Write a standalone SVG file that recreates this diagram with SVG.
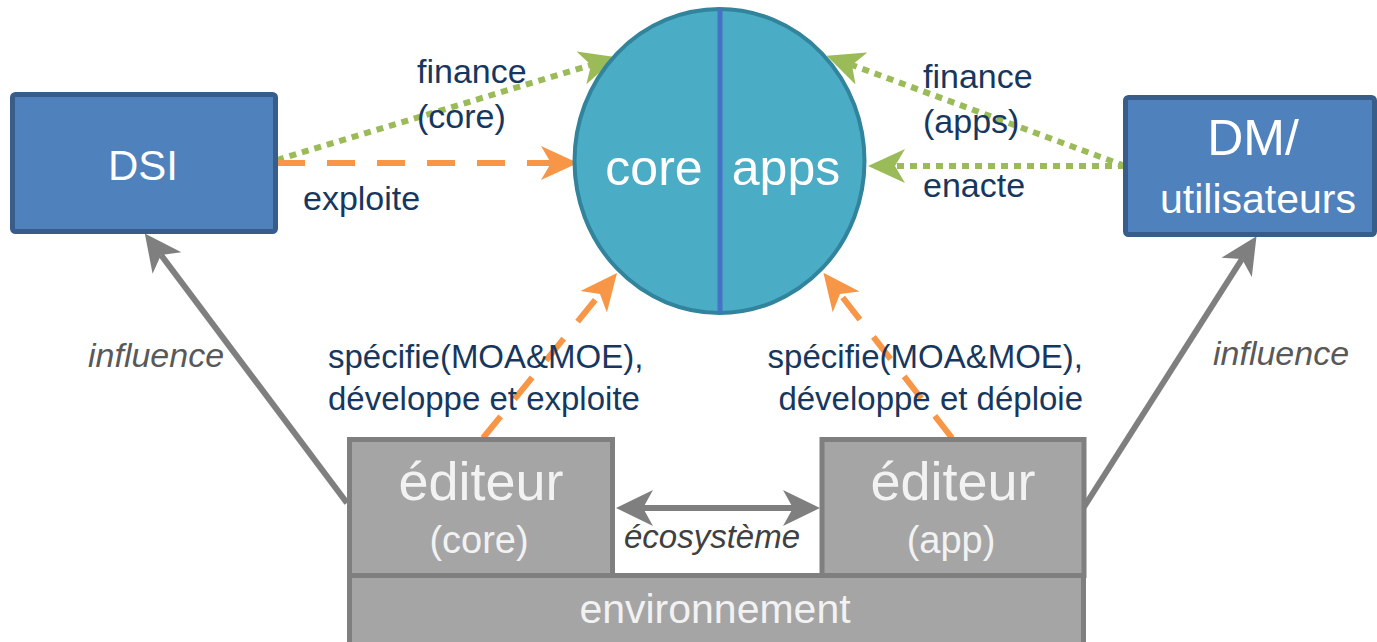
<svg xmlns="http://www.w3.org/2000/svg" width="1377" height="642" viewBox="0 0 1377 642">
<style>
.blue{fill:#4F81BD;stroke:#385D8A;stroke-width:5}
.gray{fill:#A5A5A5;stroke:#7F7F7F;stroke-width:5}
.wt{fill:#FFFFFF;font-family:"Liberation Sans",Arial,sans-serif;text-anchor:middle}
.gt{fill:#F2F2F2;font-family:"Liberation Sans",Arial,sans-serif;text-anchor:middle}
.lbl{fill:#17375E;font-family:"Liberation Sans",Arial,sans-serif;font-size:34px}
.sp{fill:#17375E;font-family:"Liberation Sans",Arial,sans-serif;font-size:33px}
.it{fill:#595959;font-family:"Liberation Sans",Arial,sans-serif;font-style:italic;font-size:34px}
.or{fill:none;stroke:#F79646;stroke-width:6;stroke-dasharray:28 22}
.gr{fill:none;stroke:#9BBB59;stroke-width:6;stroke-dasharray:7 6}
.gy{fill:none;stroke:#7F7F7F;stroke-width:6}
</style>
<defs>
<marker id="aO" markerUnits="userSpaceOnUse" viewBox="0 -18 37 36" markerWidth="37" markerHeight="36" refX="10" refY="0" orient="auto"><path d="M0,-17 L37,0 L0,17 L10,0 Z" fill="#F79646"/></marker>
<marker id="aG" markerUnits="userSpaceOnUse" viewBox="0 -18 37 36" markerWidth="37" markerHeight="36" refX="10" refY="0" orient="auto"><path d="M0,-17 L37,0 L0,17 L10,0 Z" fill="#9BBB59"/></marker>
<marker id="aY" markerUnits="userSpaceOnUse" viewBox="0 -19 37 38" markerWidth="37" markerHeight="38" refX="10" refY="0" orient="auto-start-reverse"><path d="M0,-18 L37,0 L0,18 L10,0 Z" fill="#7F7F7F"/></marker>
</defs>
<rect width="1377" height="642" fill="#FFFFFF"/>

<g id="connectors">
<path id="c-finance-core" class="gr" d="M277,160 L591,65" marker-end="url(#aG)"/>
<path id="c-exploite" class="or" d="M277,163 L551,163" marker-end="url(#aO)"/>
<path id="c-finance-apps" class="gr" d="M1125,166 L852,65" marker-end="url(#aG)"/>
<path id="c-enacte" class="gr" d="M1125,166 L895,166" marker-end="url(#aG)"/>
<path id="c-spec-core" class="or" d="M483,438 L600,294" marker-end="url(#aO)"/>
<path id="c-spec-app" class="or" d="M952,438 L840,294" marker-end="url(#aO)"/>
<path id="c-infl-dsi" class="gy" d="M347,503 L161,255" marker-end="url(#aY)"/>
<path id="c-infl-dm" class="gy" d="M1084,507 L1242,259" marker-end="url(#aY)"/>
<path id="c-ecosysteme" class="gy" d="M643,508 L793,508" marker-start="url(#aY)" marker-end="url(#aY)"/>
</g>

<g id="node-dsi">
<rect class="blue" x="12.5" y="94.5" width="263" height="137" rx="3"/>
<text class="wt" x="143" y="180" font-size="42">DSI</text>
</g>

<g id="node-dm">
<rect class="blue" x="1125.5" y="97.5" width="249" height="137" rx="3"/>
<text class="wt" x="1253" y="155" font-size="50">DM/</text>
<text class="wt" x="1258" y="213" font-size="41">utilisateurs</text>
</g>

<g id="node-core-apps">
<ellipse cx="719.5" cy="161" rx="145" ry="152" fill="#4BACC6" stroke="#31849B" stroke-width="4"/>
<line x1="720" y1="9" x2="720" y2="313" stroke="#4472C4" stroke-width="5"/>
<text class="wt" x="654" y="185" font-size="50">core</text>
<text class="wt" x="786" y="185" font-size="50">apps</text>
</g>

<g id="node-environnement">
<rect class="gray" x="349.5" y="575.5" width="734" height="80"/>
<text class="gt" x="715" y="623" font-size="41">environnement</text>
</g>

<g id="node-editeur-core">
<rect class="gray" x="349.5" y="439.5" width="263" height="136"/>
<text class="gt" x="481" y="500" font-size="54">éditeur</text>
<text class="gt" x="479" y="553" font-size="38">(core)</text>
</g>

<g id="node-editeur-app">
<rect class="gray" x="822" y="439.5" width="262" height="136"/>
<text class="gt" x="953" y="500" font-size="54">éditeur</text>
<text class="gt" x="951" y="553" font-size="38">(app)</text>
</g>

<g id="labels">
<text class="lbl" x="417" y="83">finance</text>
<text class="lbl" x="417" y="128">(core)</text>
<text class="lbl" x="303" y="210">exploite</text>
<text class="lbl" x="923" y="88">finance</text>
<text class="lbl" x="923" y="133">(apps)</text>
<text class="lbl" x="923" y="197">enacte</text>
<text class="sp" x="328" y="368">spécifie(MOA&amp;MOE),</text>
<text class="sp" x="328" y="410">développe et exploite</text>
<text class="sp" x="1083" y="368" text-anchor="end">spécifie(MOA&amp;MOE),</text>
<text class="sp" x="1083" y="410" text-anchor="end">développe et déploie</text>
<text class="it" x="88" y="367">influence</text>
<text class="it" x="1213" y="365">influence</text>
<text class="it" x="712" y="548" text-anchor="middle" font-size="33" fill="#404040" style="font-size:33px;fill:#404040">écosystème</text>
</g>
</svg>
